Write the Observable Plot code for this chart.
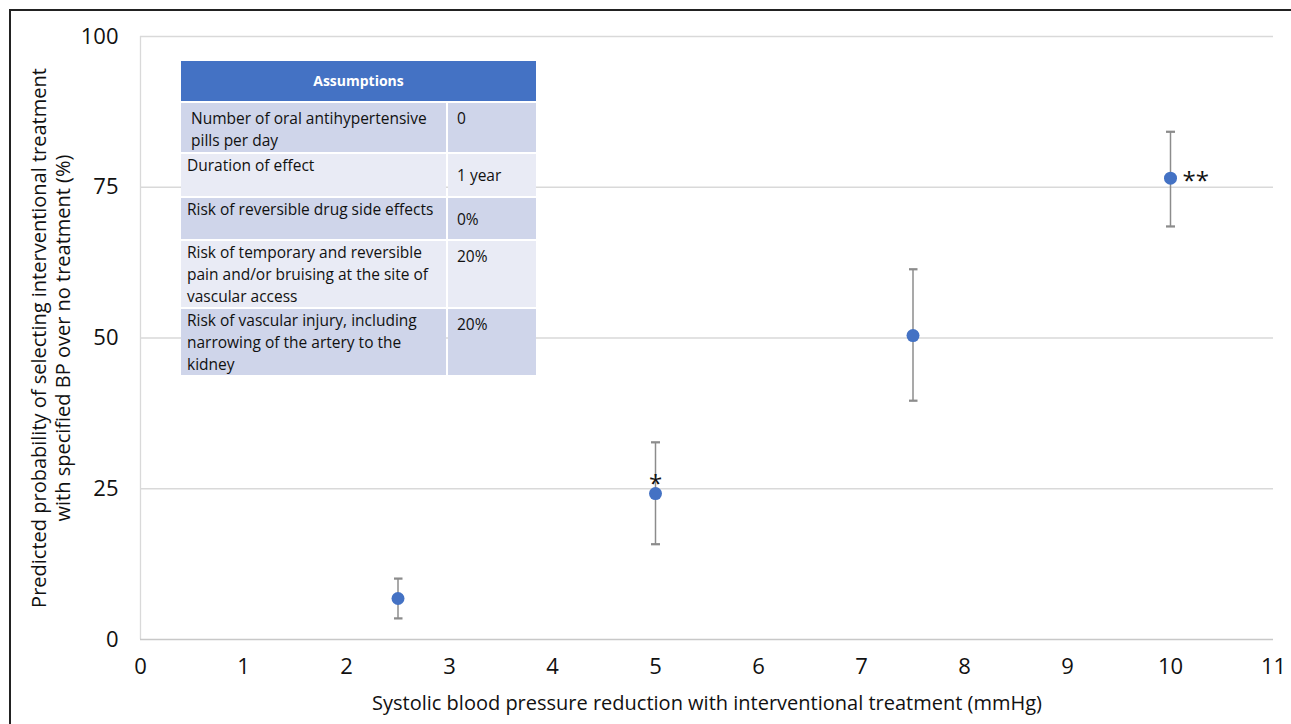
<!DOCTYPE html>
<html>
<head>
<meta charset="utf-8">
<script src="https://cdn.jsdelivr.net/npm/d3@7"></script>
<script src="https://cdn.jsdelivr.net/npm/@observablehq/plot@0.6"></script>
<style>
  html, body { margin: 0; padding: 0; background: #fff; }
  body { width: 1291px; height: 724px; position: relative; overflow: hidden; font-family: "Open Sans", sans-serif; }
  #frame { position: absolute; left: 9px; top: 9px; width: 1300px; height: 800px; border-top: 2px solid #222; border-left: 2px solid #222; }
  #chart { position: absolute; left: 0; top: 0; }
  #assumptions { position: absolute; left: 179px; top: 59px; width: 359px; table-layout: fixed; border-collapse: separate; border-spacing: 2px; font-size: 15.5px; color: #111; line-height: 22px; }
  #assumptions th { background: #4472C4; color: #fff; font-weight: bold; font-size: 14px; height: 40px; padding: 0; text-align: center; }
  #assumptions td { padding: 0 4px 0 6px; vertical-align: top; box-sizing: border-box; }
  #assumptions col.c1 { width: 265px; }
  #assumptions col.c2 { width: 88px; }
  #assumptions tbody tr:nth-child(odd) td { background: #CFD5EA; }
  #assumptions tbody tr:nth-child(even) td { background: #E9EBF5; }
  #assumptions td.v { padding-left: 9px; }
  #assumptions tbody tr:nth-child(1) td { height: 49px; padding-top: 4px; }
  #assumptions tbody tr:nth-child(1) td.l { padding-left: 10px; }
  #assumptions tbody tr:nth-child(2) td { height: 42px; }
  #assumptions tbody tr:nth-child(2) td.v { vertical-align: middle; }
  #assumptions tbody tr:nth-child(3) td { height: 41px; }
  #assumptions tbody tr:nth-child(3) td.v { vertical-align: middle; }
  #assumptions tbody tr:nth-child(4) td { height: 65px; }
  #assumptions tbody tr:nth-child(4) td.v { padding-top: 4px; }
  #assumptions tbody tr:nth-child(5) td { height: 64px; }
  #assumptions tbody tr:nth-child(5) td.v { padding-top: 4px; }
</style>
</head>
<body>
<div id="frame"></div>
<div id="chart"></div>
<table id="assumptions"><colgroup><col class="c1"><col class="c2"></colgroup><thead><tr><th colspan="2">Assumptions</th></tr></thead><tbody></tbody></table>
<script>
// ---- data ----
const reduction = [2.5, 5, 7.5, 10];
const probability = [6.8, 24.2, 50.4, 76.5];
const lowerCI = [3.5, 15.8, 39.6, 68.5];
const upperCI = [10.1, 32.7, 61.4, 84.2];
const significance = ["", "*", "", "**"];
const xTicks = [0, 1, 2, 3, 4, 5, 6, 7, 8, 9, 10, 11];
const yTicks = [0, 25, 50, 75, 100];
const xLabel = "Systolic blood pressure reduction with interventional treatment (mmHg)";
const yLabel = "Predicted probability of selecting interventional treatment\nwith specified BP over no treatment (%)";
const assumptionLabels = [
  "Number of oral antihypertensive pills per day",
  "Duration of effect",
  "Risk of reversible drug side effects",
  "Risk of temporary and reversible pain and/or bruising at the site of vascular access",
  "Risk of vascular injury, including narrowing of the artery to the kidney"
];
const assumptionValues = ["0", "1 year", "0%", "20%", "20%"];

const data = reduction.map((x, i) => ({x, y: probability[i], lo: lowerCI[i], hi: upperCI[i], sig: significance[i]}));

const font = "'Open Sans', sans-serif";
const chart = Plot.plot({
  width: 1291,
  height: 724,
  marginLeft: 140,
  marginRight: 18,
  marginTop: 36,
  marginBottom: 85,
  style: {fontFamily: font, fontSize: "20px", color: "#111", background: "transparent", overflow: "visible"},
  x: {domain: [0, 11]},
  y: {domain: [0, 100]},
  marks: [
    Plot.gridY(yTicks.filter(d => d > 0), {stroke: "#d9d9d9", strokeOpacity: 1, strokeWidth: 1.3}),
    Plot.ruleX([0], {stroke: "#d9d9d9", strokeWidth: 1.3}),
    Plot.ruleY([0], {stroke: "#c8c8c8", strokeWidth: 1.3}),
    Plot.axisX({ticks: xTicks, tickSize: 0, tickPadding: 19, fontSize: 22, label: null, fill: "#111"}),
    Plot.axisY({ticks: yTicks, tickSize: 0, tickPadding: 22, fontSize: 22, label: null, fill: "#111"}),
    Plot.text([xLabel], {frameAnchor: "bottom", dy: 64, fontSize: 20, fill: "#111", lineAnchor: "middle"}),
    Plot.text([yLabel], {frameAnchor: "left", dx: -90, rotate: -90, fontSize: 20, lineHeight: 1.2, fill: "#111", textAnchor: "middle", lineAnchor: "middle"}),
    Plot.link(data, {x1: "x", x2: "x", y1: "lo", y2: "hi", stroke: "#8c8c8c", strokeWidth: 1.5, marker: "tick"}),
    Plot.dot(data, {x: "x", y: "y", r: 6.5, fill: "#4472C4"}),
    Plot.text(data.filter(d => d.sig === "*"), {x: "x", y: "y", text: "sig", dy: -9, fontSize: 24, fill: "#111"}),
    Plot.text(data.filter(d => d.sig === "**"), {x: "x", y: "y", text: "sig", dx: 12, dy: 3, textAnchor: "start", fontSize: 24, fill: "#111"})
  ]
});
document.getElementById("chart").appendChild(chart);

const tbody = d3.select("#assumptions tbody");
const rows = tbody.selectAll("tr").data(assumptionLabels).join("tr");
rows.append("td").attr("class", "l").text(d => d);
rows.append("td").attr("class", "v").text((d, i) => assumptionValues[i]);
</script>
</body>
</html>
